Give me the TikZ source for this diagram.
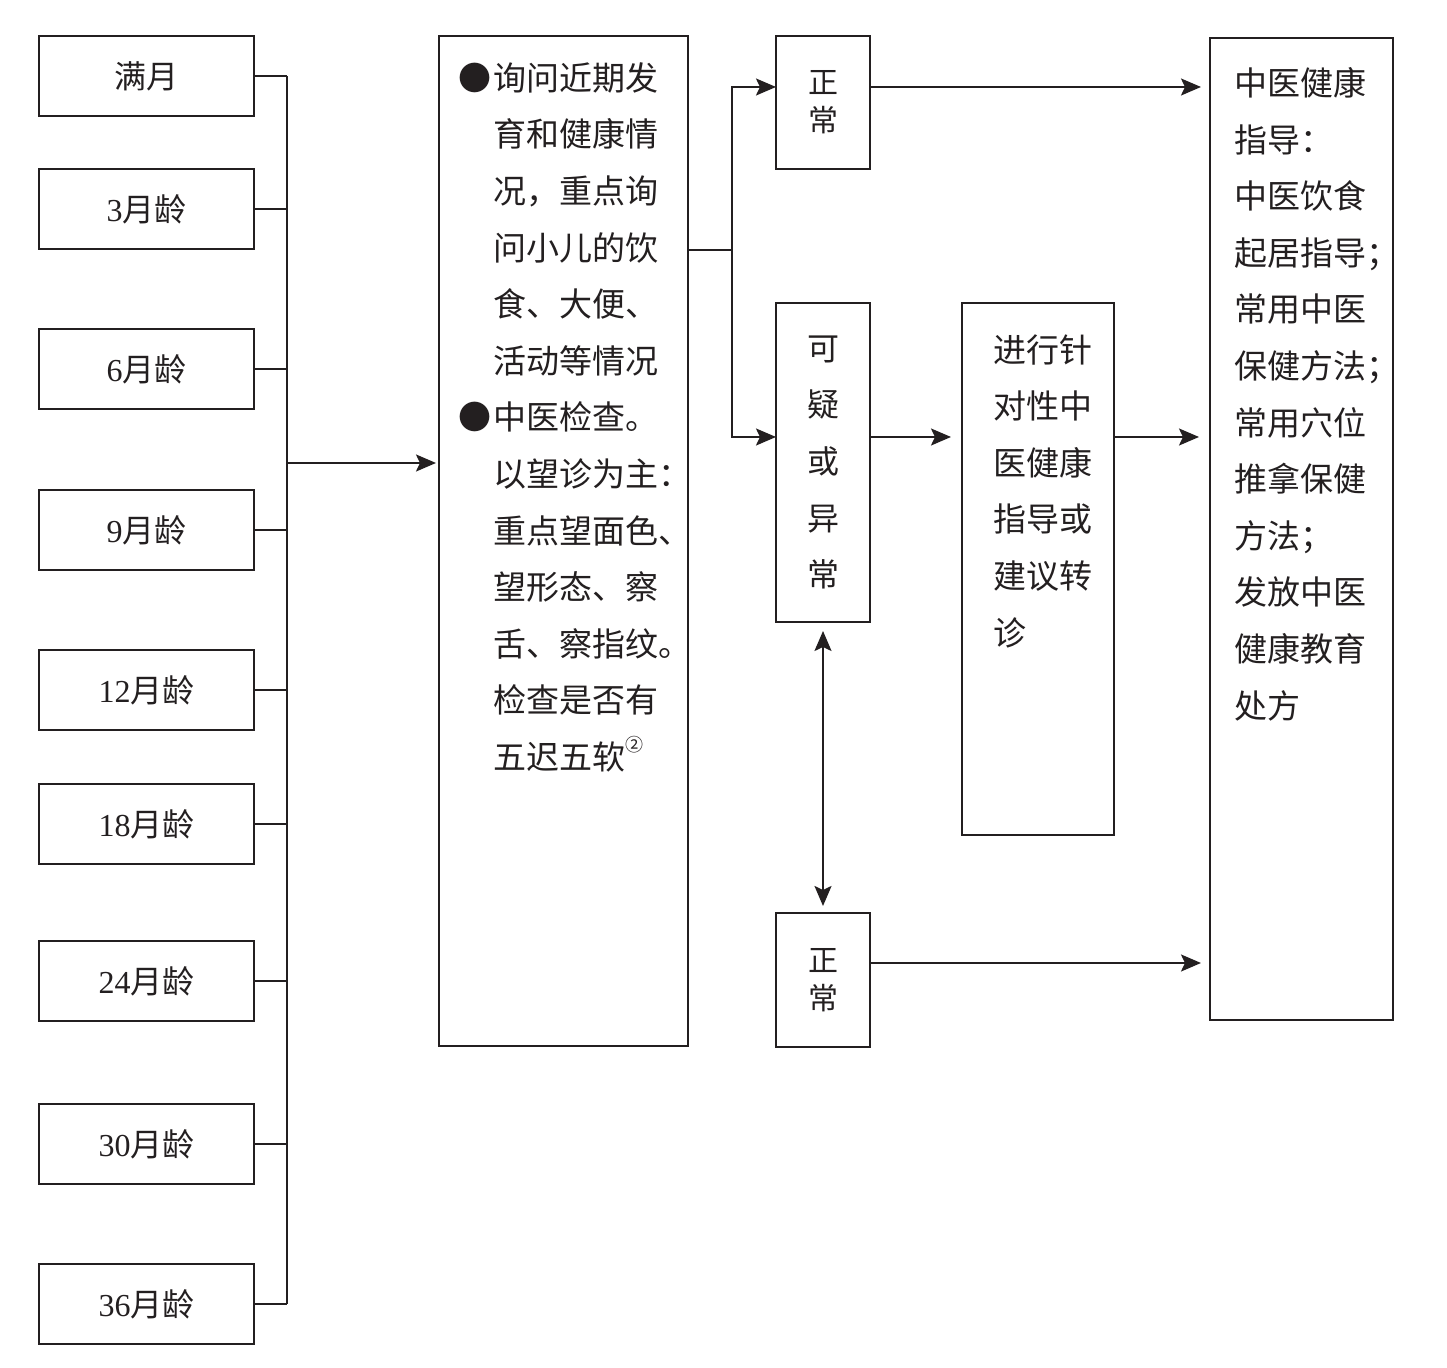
\documentclass[tikz,border=0pt]{standalone}
\usepackage{fontspec}
\setmainfont{Liberation Serif}
\newfontfamily\cjk{Noto Sans CJK SC}
\usetikzlibrary{arrows.meta}
\definecolor{ink}{RGB}{35,31,32}
\begin{document}
\begin{tikzpicture}[x=0.5pt,y=-0.5pt,
  box/.style={draw=ink, line width=1pt, rectangle, inner sep=0pt},
  agebox/.style={box, minimum width=107.5pt, minimum height=40pt, text=ink, font=\fontsize{16}{18}\selectfont},
  vbox/.style={box, minimum width=47pt, text=ink, align=center},
  conn/.style={draw=ink, line width=1pt},
  arr/.style={conn, -{Stealth[length=10pt,width=8.5pt,inset=2pt]}},
  txt/.style={anchor=north west, inner sep=0pt, align=left, text=ink, font=\cjk\fontsize{16.5}{28.3}\selectfont}]
\useasboundingbox (0,0) rectangle (1447,1368);

% age boxes
\node[agebox] (m1) at (146.5,76) {\cjk 满月};
\node[agebox] (m2) at (146.5,209.5) {3{\cjk 月龄}};
\node[agebox] (m3) at (146.5,369.5) {6{\cjk 月龄}};
\node[agebox] (m4) at (146.5,530) {9{\cjk 月龄}};
\node[agebox] (m5) at (146.5,690) {12{\cjk 月龄}};
\node[agebox] (m6) at (146.5,824) {18{\cjk 月龄}};
\node[agebox] (m7) at (146.5,981) {24{\cjk 月龄}};
\node[agebox] (m8) at (146.5,1144) {30{\cjk 月龄}};
\node[agebox] (m9) at (146.5,1304) {36{\cjk 月龄}};

% middle box
\node[box, minimum width=124.5pt, minimum height=505pt] (mid) at (563.5,541) {};
\node[txt] (midtext) at (493,62) {\llap{●\kern0.8pt}询问近期发\\育和健康情\\况，重点询\\问小儿的饮\\食、大便、\\活动等情况\\\llap{●\kern0.8pt}中医检查。\\以望诊为主：\\重点望面色、\\望形态、察\\舌、察指纹。\\检查是否有\\五迟五软\raisebox{0.55em}{\fontsize{9}{9}\selectfont ②}};

% result boxes
\node[vbox, minimum height=66.5pt, font=\cjk\fontsize{15}{19}\selectfont] (n1) at (823,102.5) {正\\常};
\node[vbox, minimum height=159.5pt, font=\cjk\fontsize{16}{28.3}\selectfont] (sus) at (823,462.5) {可\\疑\\或\\异\\常};
\node[vbox, minimum height=67pt, font=\cjk\fontsize{15}{19}\selectfont] (n2) at (823,980) {正\\常};

% advice box
\node[box, minimum width=76pt, minimum height=266pt] (adv) at (1038,569) {};
\node[txt] (advtext) at (993,334) {进行针\\对性中\\医健康\\指导或\\建议转\\诊};

% right box
\node[box, minimum width=91.5pt, minimum height=491pt] (r) at (1301.5,529) {};
\node[txt] (rtext) at (1234,67) {中医健康\\指导：\\中医饮食\\起居指导；\\常用中医\\保健方法；\\常用穴位\\推拿保健\\方法；\\发放中医\\健康教育\\处方};

% bus on the left
\coordinate (busx) at (287,0);
\foreach \i in {1,...,9} {\draw[conn] (m\i.east) -- (m\i.east -| busx);}
\draw[conn] (m1.east -| busx) -- (m9.east -| busx);
\coordinate (j1) at (287,463);
\draw[arr, shorten >=1pt] (j1) -- (j1 -| mid.west);

% split to results
\coordinate (split) at (732,250);
\coordinate (t1) at (776,87);
\coordinate (t2) at (776,437);
\coordinate (t3) at (776,963);
\draw[conn] (mid.east |- split) -- (split);
\draw[arr] (split) |- (t1);
\draw[arr] (split) |- (t2);

% to right
\draw[arr, shorten >=4pt] (t1 -| n1.east) -- (t1 -| r.west);
\draw[arr, shorten >=5pt] (t2 -| sus.east) -- (t2 -| adv.west);
\draw[arr, shorten >=5pt] (t2 -| adv.east) -- (t2 -| r.west);
\draw[arr, shorten >=4pt] (t3 -| n2.east) -- (t3 -| r.west);

% double arrow
\draw[conn, {Stealth[length=10pt,width=8.5pt,inset=2pt]}-{Stealth[length=10pt,width=8.5pt,inset=2pt]}, shorten <=4pt, shorten >=3pt] (sus.south) -- (n2.north);
\end{tikzpicture}
\end{document}
